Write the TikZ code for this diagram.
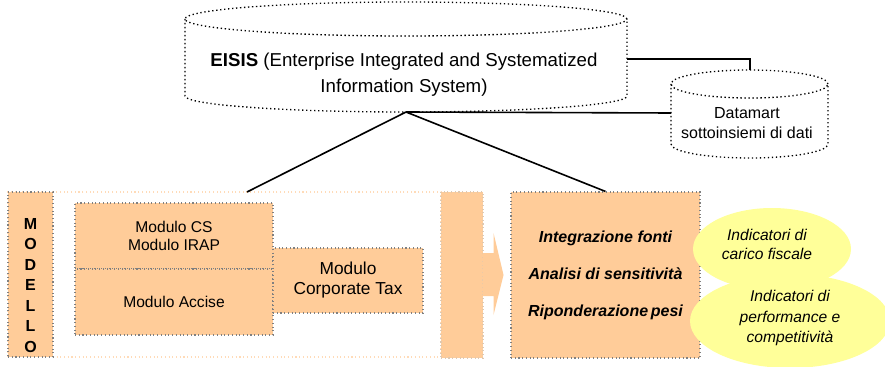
\documentclass[tikz,border=0pt]{standalone}
\usepackage{fontspec}
\setmainfont{Liberation Sans}
\usetikzlibrary{shapes.geometric}
\definecolor{peach}{HTML}{FFCC99}
\definecolor{lemon}{HTML}{FFFF99}
\newcommand{\pxu}{0.75pt}

\begin{document}
\begin{tikzpicture}[x=0.75pt,y=-0.75pt]
		\tikzstyle{every node}+=[inner sep=0pt]
		\tikzstyle{modbox}=[rectangle, fill=peach, draw=black!50, dotted, line width=0.8pt]
		\tikzstyle{drum}=[draw=black, dotted, line width=1pt]
		\tikzstyle{link}=[draw=black, line width=1.2pt]
		\tikzstyle{cloud}=[ellipse, fill=lemon]
		\tikzstyle{itxt}=[align=center, font=\fontsize{11.7}{14.3}\selectfont\itshape]
		\useasboundingbox (0,0) rectangle (885,367);
		\node [draw=peach!70, dotted, line width=0.8pt, minimum width=433*\pxu, minimum height=165*\pxu] (frame) at (224.5,274.5) {};
		\node [modbox, minimum width=45*\pxu, minimum height=165*\pxu] (modello) at (30.5,274.5) {};
		\node [align=center, font=\fontsize{12}{15.4}\selectfont\bfseries] (modellotxt) at (30.5,285.5) {M\\O\\D\\E\\L\\L\\O};
		\node [modbox, minimum width=198*\pxu, minimum height=66*\pxu, align=center, font=\fontsize{11.7}{13.5}\selectfont] (cs) at (174,236) {Modulo CS\\Modulo IRAP};
		\node [modbox, minimum width=198*\pxu, minimum height=66*\pxu, font=\fontsize{11.7}{13.5}\selectfont] (accise) at (174,302) {\raisebox{-3.75pt}{Modulo Accise}};
		\node [modbox, minimum width=150*\pxu, minimum height=65*\pxu, align=center, font=\fontsize{13}{15}\selectfont] (corp) at (348,280.5) {Modulo\\Corporate Tax};
		\node [rectangle, fill=peach, draw=peach!80!black!60, dotted, line width=0.8pt, minimum width=42*\pxu, minimum height=166*\pxu] (gate) at (462,275) {};
		\fill [peach] (gate.east) ++(-1,-22) -- ++(11,0) -- ++(0,-20) -- ++(10,42) -- ++(-10,40) -- ++(0,-19) -- ++(-11,0) -- cycle;
		\node [modbox, minimum width=189*\pxu, minimum height=166*\pxu, align=center, font=\fontsize{12}{27.75}\selectfont\bfseries\itshape] (elab) at (605.5,275) {Integrazione fonti\\Analisi di sensitività\\Riponderazione\,pesi};
		\node [cloud, minimum width=158*\pxu, minimum height=82*\pxu] (carico) at (772,249) {};
		\node [cloud, minimum width=200*\pxu, minimum height=94*\pxu] (perf) at (790,321) {};
		\node [itxt] (caricotxt) at ([shift={(-5,-4.5)}]carico.center) {Indicatori di\\carico fiscale};
		\node [itxt, font=\fontsize{11.7}{15.4}\selectfont\itshape] (perftxt) at ([shift={(0,-3)}]perf.center) {Indicatori di\\performance e\\competitività};
		\draw [drum] (406,19) ellipse [x radius=221*\pxu, y radius=17*\pxu];
		\draw [drum] (185,19) -- (185,96) arc [start angle=180, end angle=360, x radius=221*\pxu, y radius=16*\pxu] -- (627,19);
		\node [align=center, font=\fontsize{14}{19.5}\selectfont] (eisis) at (404,75) {\textbf{EISIS} (Enterprise Integrated and Systematized\\Information System)};
		\draw [drum] (749.5,84) ellipse [x radius=78.5*\pxu, y radius=14*\pxu];
		\draw [drum] (671,84) -- (671,144) arc [start angle=180, end angle=360, x radius=78.5*\pxu, y radius=14*\pxu] -- (828,84);
		\node [align=center, font=\fontsize{12}{15}\selectfont] (datamart) at (747,123) {Datamart\\sottoinsiemi di dati};
		\coordinate (eisisbot) at (406,112);
		\coordinate (eisisright) at (627,59);
		\coordinate (dmtop) at (750,70);
		\coordinate (dmleft) at (671,113);
		\coordinate (modin) at (247,192);
		\draw [link] (eisisbot) -- (modin);
		\draw [link] (eisisbot) -- (elab.north);
		\draw [link] (eisisbot) -- (dmleft);
		\draw [link] (eisisright) -| (dmtop);
\end{tikzpicture}
\end{document}
